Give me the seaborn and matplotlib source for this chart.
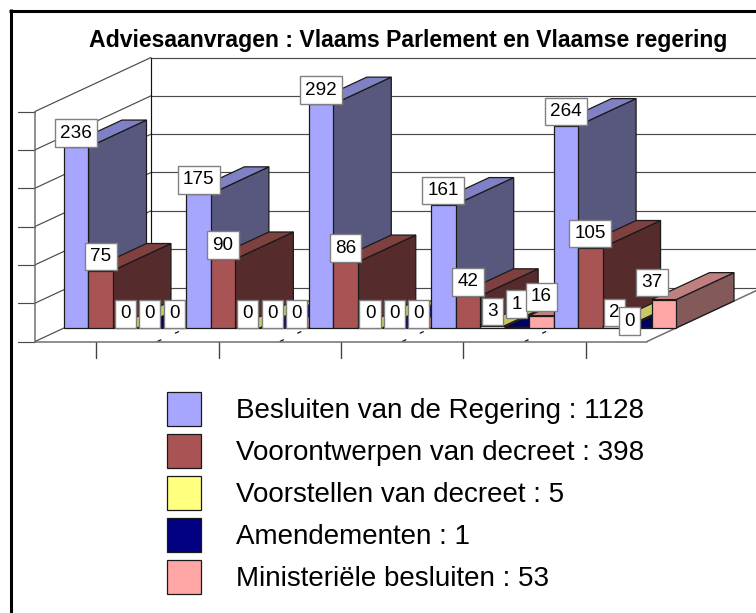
import matplotlib
matplotlib.use("Agg")
import matplotlib.pyplot as plt
import seaborn as sns
import pandas as pd
from matplotlib.patches import Polygon
from matplotlib.lines import Line2D

# ---- data ----
groups = ["G1", "G2", "G3", "G4", "G5"]
besluiten = [236, 175, 292, 161, 264]
voorontwerpen = [75, 90, 86, 42, 105]
voorstellen = [0, 0, 0, 3, 2]
amendementen = [0, 0, 0, 1, 0]
ministeriele = [0, 0, 0, 16, 37]
series_names = ["Besluiten van de Regering : 1128", "Voorontwerpen van decreet : 398",
                "Voorstellen van decreet : 5", "Amendementen : 1", "Ministeriële besluiten : 53"]
series_values = [besluiten, voorontwerpen, voorstellen, amendementen, ministeriele]
title = "Adviesaanvragen : Vlaams Parlement en Vlaamse regering"
value_ticks = [0, 50, 100, 150, 200, 250, 300]

# ---- style ----
front_cols = ["#A6A6FF", "#A85454", "#FFFF80", "#000080", "#FFA6A6"]
top_cols = ["#8080C4", "#7F4040", "#C8C864", "#000060", "#C08080"]
side_cols = ["#58587E", "#562B2B", "#80803F", "#000040", "#835959"]
EDGE = "#1A1A1A"
GRID = "#4A4A4A"
W, H = 756, 613
PX_GROUP = 122.4      # pixels per category
PX_VALUE = 230 / 300  # pixels per value unit
X0, Y0 = 64, 328      # pixel of plane origin (left of first group, value zero)
DEPTH_X, DEPTH_Y = 116, 54
FRONT_D, BACK_D = 0.25, 0.75

sns.set_style("white")
plt.rcParams["font.family"] = ["Liberation Sans", "DejaVu Sans"]
plt.rcParams["text.color"] = "black"
fig = plt.figure(figsize=(W / 100, H / 100), dpi=100, facecolor="white")
ax = fig.add_axes([0, 0, 1, 1])

df = pd.DataFrame([
    {"group": g, "series": n, "value": v}
    for n, vals in zip(series_names, series_values)
    for g, v in zip(groups, vals)
])
sns.barplot(data=df, x="group", y="value", hue="series", order=groups, hue_order=series_names,
            palette=dict(zip(series_names, front_cols)), saturation=1, width=1, gap=0,
            edgecolor=EDGE, linewidth=0.9, ax=ax)

ax.set_xlim(-0.5 - X0 / PX_GROUP, -0.5 + (W - X0) / PX_GROUP)
ax.set_ylim((Y0 - H) / PX_VALUE, Y0 / PX_VALUE)
ax.set_axis_off()


def proj(x, v, d):
    """Oblique projection of category x, value v, depth d (0 front, 1 back) into data space."""
    return (x + (d - FRONT_D) * DEPTH_X / PX_GROUP, v + (d - FRONT_D) * DEPTH_Y / PX_VALUE)


def line(p, q, color=GRID, lw=0.85, z=1, **kw):
    ax.add_line(Line2D([p[0], q[0]], [p[1], q[1]], color=color, lw=lw, zorder=z, **kw))


x_l, x_r = -0.5, len(groups) - 0.5
top = value_ticks[-1]
# walls and floor gridlines
for v in value_ticks:
    line(proj(x_l, v, 0), proj(x_l, v, 1))
    line(proj(x_l, v, 1), proj(x_r + 1, v, 1))
    a = proj(x_l, v, 0)
    line((a[0] - 17 / PX_GROUP, a[1]), a)
line(proj(x_l, 0, 0), proj(x_l, top, 0), color="#707070", lw=1.1)
line(proj(x_l, 0, 1), proj(x_l, top, 1), color="#111111")
line(proj(x_l, 0, 0), proj(x_r, 0, 0), color="#707070", lw=1.1, z=1.5)
line(proj(x_r, 0, 0), proj(x_r, 0, 1), color="#707070", lw=1.1)
for i in range(len(groups)):
    a = proj(i, 0, 0)
    line(a, (a[0], a[1] - 16 / PX_VALUE), color="#444444", lw=1)
for i in range(len(groups) - 1):
    line(proj(i + 0.5, 0, 0), proj(i + 0.5, 0, FRONT_D), color="#111111", lw=0.9,
         linestyle=(0, (3.5, 12)))

# 3D faces: each bar gets a top and a right side derived from the seaborn patch
bars = [p for c in ax.containers for p in c]
n_s = len(series_names)
for k, bar in enumerate(bars):
    s, g = k // len(groups), k % len(groups)
    z = 10 + g * n_s + s
    x0, x1 = bar.get_x(), bar.get_x() + bar.get_width()
    v = bar.get_height()
    bar.set_zorder(z + 0.5)
    top_face = [proj(x0, v, FRONT_D), proj(x1, v, FRONT_D), proj(x1, v, BACK_D), proj(x0, v, BACK_D)]
    side_face = [proj(x1, 0, FRONT_D), proj(x1, v, FRONT_D), proj(x1, v, BACK_D), proj(x1, 0, BACK_D)]
    ax.add_patch(Polygon(side_face, closed=True, fc=side_cols[s], ec=EDGE, lw=0.9, zorder=z))
    ax.add_patch(Polygon(top_face, closed=True, fc=top_cols[s], ec=EDGE, lw=0.9, zorder=z + 0.2))

# value labels; a few were moved by hand in the original (pixels)
moved = {(3, 3): (0, 9), (4, 3): (0, 5), (3, 4): (-10, -7), (4, 4): (-12, 3)}
for k, bar in enumerate(bars):
    s, g = k // len(groups), k % len(groups)
    cx = bar.get_x() + bar.get_width() / 2
    v = bar.get_height()
    dx, dy = moved.get((s, g), (0, 0))
    ax.annotate(f"{v:.0f}", (cx, v), xytext=(dx * 0.72, (dy + 5.5) * 0.72), textcoords="offset points",
                ha="center", va="bottom", fontsize=13.6, color="black", zorder=100,
                bbox=dict(boxstyle="square,pad=0.28", fc="white", ec="#808080", lw=1))

sns.move_legend(ax, loc="upper left", bbox_to_anchor=(167 / W, 1 - 392 / H), bbox_transform=fig.transFigure,
                frameon=False, title=None, fontsize=20, handlelength=1.22, handleheight=1.505,
                labelspacing=0.29, handletextpad=1.26, borderpad=0, borderaxespad=0)

fig.text(408.5 / W, 1 - 41 / H, title, ha="center", va="center", fontsize=16.55, fontweight="bold", color="black")

# outer black frame (runs off the right and bottom of the picture)
fig.add_artist(Line2D([10.5 / W, 10.5 / W], [0, 1 - 9 / H], color="black", lw=2.2, solid_capstyle="butt"))
fig.add_artist(Line2D([9 / W, 1], [1 - 10.5 / H, 1 - 10.5 / H], color="black", lw=2.2, solid_capstyle="butt"))

fig.savefig("out.png", dpi=100, facecolor="white")
